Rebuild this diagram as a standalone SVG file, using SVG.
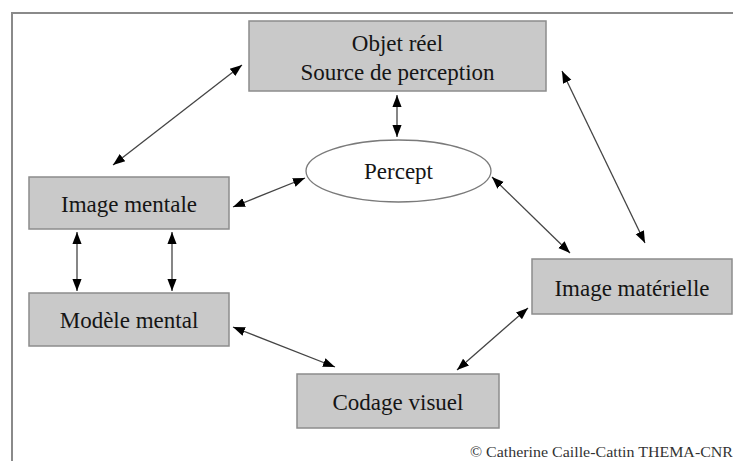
<svg xmlns="http://www.w3.org/2000/svg" width="733" height="461" viewBox="0 0 733 461">
<style>
.box{fill:#c9c9c9;stroke:#8c8c8c;stroke-width:1.5}
.ell{fill:#fff;stroke:#7a7a7a;stroke-width:1.3}
.t{font-family:"Liberation Serif","Times New Roman",serif;font-size:23px;fill:#151515;text-anchor:middle}
.c{stroke:#444;stroke-width:1.3;fill:none;marker-start:url(#ah);marker-end:url(#ah)}
</style>
<defs>
<marker id="ah" viewBox="0 0 10 10" refX="10" refY="5" markerWidth="12" markerHeight="12" markerUnits="userSpaceOnUse" orient="auto-start-reverse">
<path d="M0,1.2 L10,5 L0,8.8 Z" fill="#000"/>
</marker>
</defs>
<rect width="733" height="461" fill="#fff"/>
<path d="M12,461 V13 H733" fill="none" stroke="#8a8a8a" stroke-width="2"/>
<g id="objet">
<rect class="box" x="249" y="21" width="297" height="70"/>
<text class="t" x="397.5" y="51">Objet réel</text>
<text class="t" x="397.5" y="80">Source de perception</text>
</g>
<g id="percept">
<ellipse class="ell" cx="398.5" cy="171" rx="92.5" ry="31"/>
<text class="t" x="398.5" y="179">Percept</text>
</g>
<g id="image-mentale">
<rect class="box" x="29" y="177" width="200" height="52"/>
<text class="t" x="129" y="212">Image mentale</text>
</g>
<g id="modele-mental">
<rect class="box" x="29" y="293" width="200" height="53"/>
<text class="t" x="129" y="328">Modèle mental</text>
</g>
<g id="image-materielle">
<rect class="box" x="532" y="259" width="200" height="55"/>
<text class="t" x="632" y="296">Image matérielle</text>
</g>
<g id="codage-visuel">
<rect class="box" x="297" y="374" width="202" height="54"/>
<text class="t" x="398" y="410">Codage visuel</text>
</g>
<g id="connectors">
<line class="c" x1="113" y1="165" x2="242" y2="65"/>
<line class="c" x1="397" y1="95" x2="397" y2="137"/>
<line class="c" x1="562" y1="71" x2="645" y2="243"/>
<line class="c" x1="233" y1="207" x2="305" y2="178"/>
<line class="c" x1="492" y1="177" x2="570" y2="253"/>
<line class="c" x1="77" y1="232" x2="77" y2="291"/>
<line class="c" x1="172" y1="232" x2="172" y2="291"/>
<line class="c" x1="233" y1="327" x2="335" y2="367"/>
<line class="c" x1="457" y1="370" x2="528" y2="308"/>
</g>
<text x="733" y="457" font-family="'Liberation Serif','Times New Roman',serif" font-size="14" fill="#333" text-anchor="end" textLength="263" lengthAdjust="spacingAndGlyphs">© Catherine Caille-Cattin THEMA-CNR</text>
</svg>
